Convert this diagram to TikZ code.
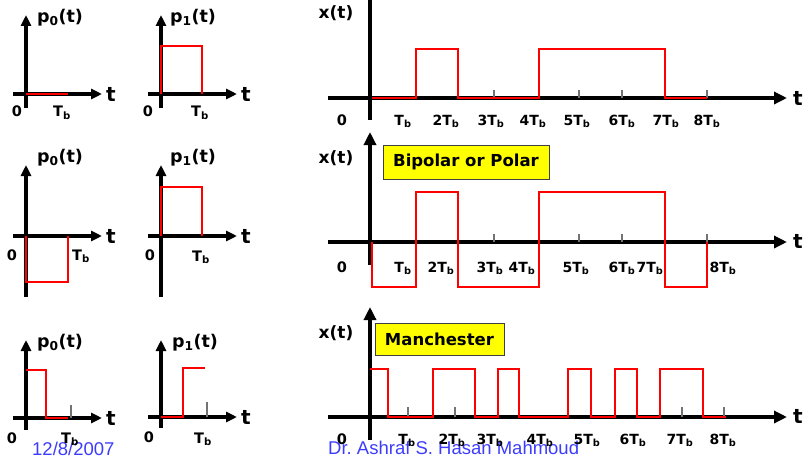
\documentclass[tikz,border=0pt]{standalone}
\usepackage{fontspec}
\setmainfont{DejaVu Sans}
\newfontfamily\footfont{Liberation Sans}
\usetikzlibrary{arrows.meta}
\definecolor{footblue}{RGB}{60,60,255}
\definecolor{boxyellow}{RGB}{255,255,0}
\newcommand\TbLab[1]{#1T\textsubscript{b}}
\tikzset{
  axis/.style={line width=3.2pt, black, -{Triangle[length=11pt,width=10pt]}},
  bigaxis/.style={line width=3.4pt, black, -{Triangle[length=13pt,width=12pt]}},
  plainaxis/.style={line width=3.4pt, black},
  sig/.style={line width=2.9pt, red, line join=miter},
  gtick/.style={line width=1.1pt, black!55},
  plab/.style={font=\fontsize{17.5}{20}\selectfont\bfseries, inner sep=0pt},
  xlab/.style={font=\fontsize{17}{20}\selectfont\bfseries, inner sep=0pt},
  tlab/.style={font=\fontsize{20}{22}\selectfont\bfseries, inner sep=0pt},
  zlab/.style={font=\fontsize{14.5}{16}\selectfont\bfseries, inner sep=0pt, anchor=base},
  klab/.style={font=\fontsize{14}{16}\selectfont\bfseries, inner sep=0pt, anchor=base},
  ybox/.style={fill=boxyellow, draw=black!75, line width=0.7pt},
  boxtxt/.style={font=\fontsize{16.5}{20}\selectfont\bfseries, inner sep=0pt},
  foot/.style={font=\fontsize{18.5}{20}\footfont, text=footblue, inner sep=0pt, anchor=base west}
}
\begin{document}
\begin{tikzpicture}[x=1pt,y=-1pt]
\useasboundingbox (0,0) rectangle (806,460);
% ---------- footer (behind labels)
\node[foot] (date) at (32,455) {12/8/2007};
\node[foot] (author) at (328,454) {Dr.\ Ashraf S.\ Hasan Mahmoud};

% ---------- left column, row 1
\coordinate (a1b) at (26,108); \coordinate (a1t) at (26,15);
\coordinate (a1l) at (13,94);  \coordinate (a1r) at (102,94);
\draw[axis] (a1b) -- (a1t);
\draw[axis] (a1l) -- (a1r);
\draw[sig] (26,94) -- (68,94);
\node[plab] (p0a) at (60,18) {p\textsubscript{0}(t)};
\node[tlab] (ta1) at (111,94) {t};
\node[zlab] (za1) at (17,117) {0};
\node[zlab] (Ta1) at (62,117) {\TbLab{}};

\coordinate (b1b) at (161,108); \coordinate (b1t) at (161,15);
\coordinate (b1l) at (148,94);  \coordinate (b1r) at (237,94);
\draw[axis] (b1b) -- (b1t);
\draw[axis] (b1l) -- (b1r);
\draw[sig] (161,94) -- (161,46) -- (202,46) -- (202,94);
\node[plab] (p1a) at (193,18) {p\textsubscript{1}(t)};
\node[tlab] (tb1) at (246,94) {t};
\node[zlab] (zb1) at (148,117) {0};
\node[zlab] (Tb1) at (200,117) {\TbLab{}};

% ---------- left column, row 2
\coordinate (a2b) at (26,297); \coordinate (a2t) at (26,165);
\coordinate (a2l) at (13,236); \coordinate (a2r) at (102,236);
\draw[axis] (a2b) -- (a2t);
\draw[axis] (a2l) -- (a2r);
\draw[sig] (26,236) -- (26,282) -- (68,282) -- (68,236);
\node[plab] (p0b) at (60,158) {p\textsubscript{0}(t)};
\node[tlab] (ta2) at (111,236) {t};
\node[zlab] (za2) at (12,260) {0};
\node[zlab] (Ta2) at (81,260) {\TbLab{}};

\coordinate (b2b) at (161,297); \coordinate (b2t) at (161,165);
\coordinate (b2l) at (148,236); \coordinate (b2r) at (237,236);
\draw[axis] (b2b) -- (b2t);
\draw[axis] (b2l) -- (b2r);
\draw[sig] (161,236) -- (161,187) -- (202,187) -- (202,236);
\node[plab] (p1b) at (193,158) {p\textsubscript{1}(t)};
\node[tlab] (tb2) at (246,236) {t};
\node[zlab] (zb2) at (150,260) {0};
\node[zlab] (Tb2) at (201,261) {\TbLab{}};

% ---------- left column, row 3
\coordinate (a3b) at (26,430); \coordinate (a3t) at (26,340);
\coordinate (a3l) at (13,418); \coordinate (a3r) at (102,418);
\draw[axis] (a3b) -- (a3t);
\draw[axis] (a3l) -- (a3r);
\draw[gtick] (71,405) -- (71,418);
\draw[sig] (26,370) -- (46,370) -- (46,418) -- (68,418);
\node[plab] (p0c) at (60,343) {p\textsubscript{0}(t)};
\node[tlab] (ta3) at (111,418) {t};
\node[zlab] (za3) at (12,443) {0};
\node[zlab] (Ta3) at (70,443) {\TbLab{}};

\coordinate (b3b) at (161,428); \coordinate (b3t) at (161,340);
\coordinate (b3l) at (148,417); \coordinate (b3r) at (237,417);
\draw[axis] (b3b) -- (b3t);
\draw[axis] (b3l) -- (b3r);
\draw[gtick] (207,402) -- (207,417);
\draw[sig] (161,417) -- (183,417) -- (183,368) -- (205,368);
\node[plab] (p1c) at (195,343) {p\textsubscript{1}(t)};
\node[tlab] (tb3) at (246,417) {t};
\node[zlab] (zb3) at (149,442) {0};
\node[zlab] (Tb3) at (203,443) {\TbLab{}};

% ---------- right: unipolar
\coordinate (r1b) at (370,120); \coordinate (r1t) at (370,0);
\coordinate (r1l) at (328,98);  \coordinate (r1r) at (787,98);
\draw[plainaxis] (r1b) -- (r1t);
\draw[bigaxis] (r1l) -- (r1r);
\foreach \x in {494,579,622,707} \draw[gtick] (\x,90) -- (\x,98);
\draw[sig] (372,98) -- (416,98) -- (416,49) -- (458,49) -- (458,98) -- (539,98)
  -- (539,49) -- (665,49) -- (665,98) -- (707,98);
\node[xlab] (x1) at (336,13) {x(t)};
\node[tlab] (tr1) at (798,98) {t};
\node[zlab] (zr1) at (342,125) {0};
\foreach \x/\k [count=\i] in {403/,446/2,491/3,533/4,577/5,622/6,666/7,707/8}
  \node[klab] (k1\i) at (\x,125) {\TbLab{\k}};

% ---------- right: bipolar
\coordinate (r2b) at (370,265); \coordinate (r2t) at (370,132);
\coordinate (r2l) at (328,242); \coordinate (r2r) at (787,242);
\draw[bigaxis] (r2b) -- (r2t);
\draw[bigaxis] (r2l) -- (r2r);
\foreach \x in {494,579,622,707} \draw[gtick] (\x,234) -- (\x,242);
\draw[sig] (372,242) -- (372,287) -- (416,287) -- (416,192) -- (458,192) -- (458,287)
  -- (539,287) -- (539,192) -- (665,192) -- (665,287) -- (707,287) -- (707,242);
\node[ybox, minimum width=166pt, minimum height=34pt, inner sep=0pt] (bp) at (466,162) {};
\node[boxtxt] (bpt) at (bp.center) {Bipolar or Polar};
\node[xlab] (x2) at (336,158) {x(t)};
\node[tlab] (tr2) at (798,241) {t};
\node[zlab] (zr2) at (342,272) {0};
\foreach \x/\k [count=\i] in {403/,441/2,490/3,522/4,576/5,622/6,650/7,723/8}
  \node[klab] (k2\i) at (\x,272) {\TbLab{\k}};

% ---------- right: Manchester
\coordinate (r3b) at (370,440); \coordinate (r3t) at (370,307);
\coordinate (r3l) at (328,417); \coordinate (r3r) at (787,417);
\draw[bigaxis] (r3b) -- (r3t);
\draw[bigaxis] (r3l) -- (r3r);
\foreach \x in {408,455,682,724} \draw[gtick] (\x,407) -- (\x,417);
\draw[sig] (370,369) -- (388,369) -- (388,417) -- (433,417) -- (433,369) -- (475,369)
  -- (475,417) -- (498,417) -- (498,369) -- (519,369) -- (519,417) -- (568,417)
  -- (568,369) -- (591,369) -- (591,417) -- (615,417) -- (615,369) -- (637,369)
  -- (637,417) -- (660,417) -- (660,369) -- (703,369) -- (703,417) -- (726,417);
\node[ybox, minimum width=129pt, minimum height=32pt, inner sep=0pt] (mb) at (439.5,339) {};
\node[boxtxt] (mbt) at (mb.center) {Manchester};
\node[xlab] (x3) at (336,333) {x(t)};
\node[tlab] (tr3) at (798,416) {t};
\node[zlab] (zr3) at (342,444) {0};
\foreach \x/\k [count=\i] in {407/,452/2,490/3,540/4,587/5,633/6,680/7,723/8}
  \node[klab] (k3\i) at (\x,444) {\TbLab{\k}};
\end{tikzpicture}
\end{document}
